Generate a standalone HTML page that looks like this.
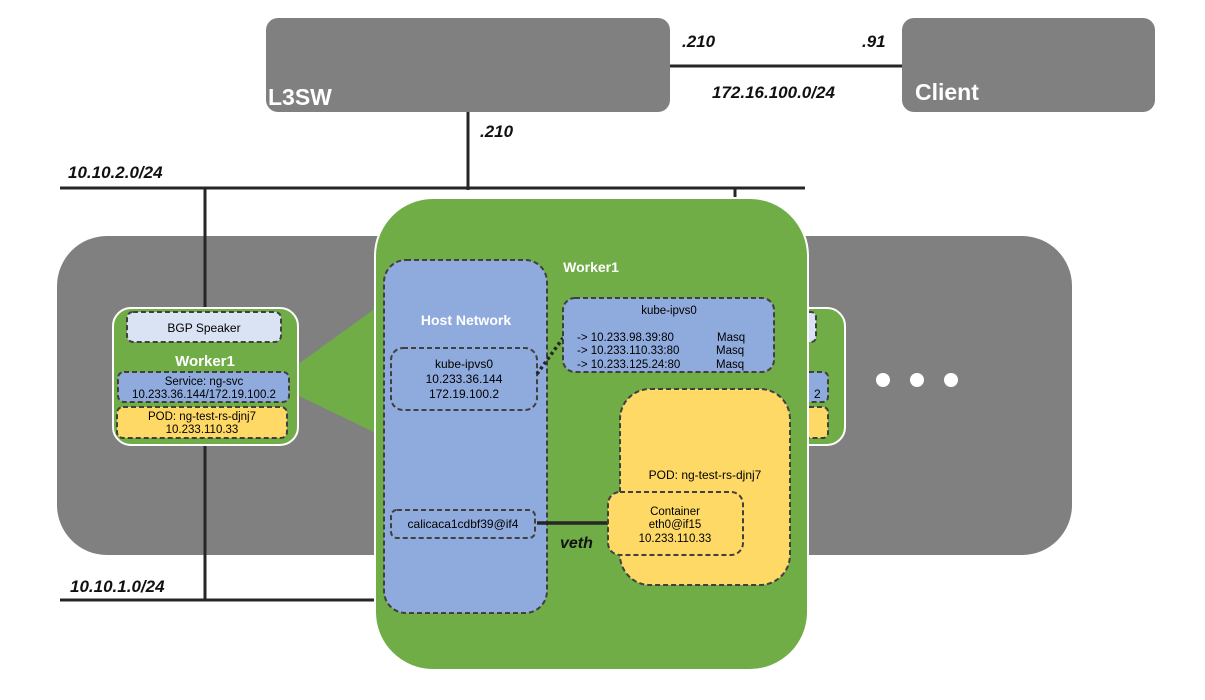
<!DOCTYPE html>
<html><head><meta charset="utf-8"><style>
html,body{margin:0;padding:0;background:#fff;}
svg{display:block;font-family:"Liberation Sans","Noto Sans CJK KR",sans-serif;}
</style></head><body>
<svg width="1205" height="700" viewBox="0 0 1205 700" xmlns="http://www.w3.org/2000/svg">
<!-- top boxes -->
<rect x="266" y="18" width="404" height="94" rx="12" fill="#808080"/>
<text x="268" y="105" font-size="23" font-weight="bold" fill="#fff">L3SW</text>
<rect x="902" y="18" width="253" height="94" rx="12" fill="#808080"/>
<text x="915" y="100" font-size="23" font-weight="bold" fill="#fff">Client</text>
<line x1="670" y1="66" x2="902" y2="66" stroke="#262626" stroke-width="3"/>
<g font-size="17" font-weight="bold" font-style="italic" fill="#111">
<text x="682" y="47">.210</text>
<text x="862" y="47">.91</text>
<text x="712" y="98">172.16.100.0/24</text>
<text x="480" y="137">.210</text>
<text x="68" y="178">10.10.2.0/24</text>
<text x="70" y="592">10.10.1.0/24</text>
<text x="213" y="300">.141</text>
</g>
<line x1="468" y1="112" x2="468" y2="190" stroke="#262626" stroke-width="3"/>
<line x1="60" y1="188" x2="805" y2="188" stroke="#262626" stroke-width="3"/>
<line x1="735" y1="188" x2="735" y2="200" stroke="#262626" stroke-width="3"/>
<!-- big grey -->
<rect x="57" y="236" width="1015" height="319" rx="50" fill="#808080"/>
<line x1="205" y1="188" x2="205" y2="600" stroke="#262626" stroke-width="3"/>
<line x1="60" y1="600" x2="377" y2="600" stroke="#262626" stroke-width="3"/>
<!-- right clipped worker -->
<rect x="760" y="308" width="85" height="137" rx="18" fill="#70AD47" stroke="#fff" stroke-width="2"/>
<rect x="780" y="312" width="36" height="30" rx="5" fill="#DAE3F3" stroke="#404040" stroke-width="2" stroke-dasharray="5,3"/>
<rect x="780" y="372" width="48" height="30" rx="5" fill="#8FAADC" stroke="#404040" stroke-width="2" stroke-dasharray="5,3"/>
<rect x="780" y="407" width="48" height="31" rx="5" fill="#FFD966" stroke="#404040" stroke-width="2" stroke-dasharray="5,3"/>
<text x="814" y="398" font-size="12" fill="#000">2</text>
<circle cx="883" cy="380" r="7" fill="#fff"/>
<circle cx="917" cy="380" r="7" fill="#fff"/>
<circle cx="951" cy="380" r="7" fill="#fff"/>
<!-- small worker -->
<polygon points="297,365 380,305 380,435 297,395" fill="#70AD47"/>
<rect x="113" y="308" width="185" height="137" rx="18" fill="#70AD47" stroke="#fff" stroke-width="2"/>
<rect x="127" y="312" width="154" height="30" rx="6" fill="#DAE3F3" stroke="#404040" stroke-width="2" stroke-dasharray="5,3"/>
<text x="204" y="332" font-size="12" text-anchor="middle">BGP Speaker</text>
<text x="205" y="366" font-size="15" font-weight="bold" fill="#fff" text-anchor="middle">Worker1</text>
<rect x="118" y="372" width="171" height="30" rx="6" fill="#8FAADC" stroke="#404040" stroke-width="2" stroke-dasharray="5,3"/>
<text x="204" y="385" font-size="11.5" text-anchor="middle">Service: ng-svc</text>
<text x="204" y="398" font-size="11.5" text-anchor="middle">10.233.36.144/172.19.100.2</text>
<rect x="117" y="407" width="170" height="31" rx="6" fill="#FFD966" stroke="#404040" stroke-width="2" stroke-dasharray="5,3"/>
<text x="202" y="420" font-size="11.5" text-anchor="middle">POD: ng-test-rs-djnj7</text>
<text x="202" y="433" font-size="11.5" text-anchor="middle">10.233.110.33</text>
<!-- big worker -->
<rect x="375" y="198" width="433" height="472" rx="58" fill="#70AD47" stroke="#fff" stroke-width="2"/>
<text x="591" y="272" font-size="14" font-weight="bold" fill="#fff" text-anchor="middle">Worker1</text>
<rect x="384" y="260" width="163" height="353" rx="22" fill="#8FAADC" stroke="#404040" stroke-width="2" stroke-dasharray="5,3"/>
<text x="466" y="325" font-size="14" font-weight="bold" fill="#fff" text-anchor="middle">Host Network</text>
<rect x="391" y="348" width="146" height="62" rx="12" fill="#8FAADC" stroke="#404040" stroke-width="2" stroke-dasharray="5,3"/>
<text x="464" y="368" font-size="12" text-anchor="middle">kube-ipvs0</text>
<text x="464" y="383" font-size="12" text-anchor="middle">10.233.36.144</text>
<text x="464" y="398" font-size="12" text-anchor="middle">172.19.100.2</text>
<rect x="391" y="510" width="144" height="28" rx="6" fill="#8FAADC" stroke="#404040" stroke-width="2" stroke-dasharray="5,3"/>
<text x="463" y="528" font-size="12" text-anchor="middle">calicaca1cdbf39@if4</text>
<line x1="537" y1="374" x2="563" y2="338" stroke="#262626" stroke-width="3.5" stroke-dasharray="3,3"/>
<rect x="563" y="298" width="211" height="74" rx="12" fill="#8FAADC" stroke="#404040" stroke-width="2" stroke-dasharray="5,3"/>
<text x="669" y="314" font-size="11.5" text-anchor="middle">kube-ipvs0</text>
<g font-size="11.5">
<text x="577" y="341">-&gt; 10.233.98.39:80</text>
<text x="577" y="354">-&gt; 10.233.110.33:80</text>
<text x="577" y="368">-&gt; 10.233.125.24:80</text>
<text x="717" y="341">Masq</text>
<text x="716" y="354">Masq</text>
<text x="716" y="368">Masq</text>
</g>
<rect x="620" y="389" width="170" height="196" rx="30" fill="#FFD966" stroke="#404040" stroke-width="2" stroke-dasharray="5,3"/>
<text x="705" y="479" font-size="12" text-anchor="middle">POD: ng-test-rs-djnj7</text>
<line x1="537" y1="523" x2="610" y2="523" stroke="#262626" stroke-width="3.5"/>
<text x="560" y="548" font-size="16" font-weight="bold" font-style="italic" fill="#111">veth</text>
<rect x="608" y="492" width="135" height="63" rx="12" fill="#FFD966" stroke="#404040" stroke-width="2" stroke-dasharray="5,3"/>
<text x="675" y="515" font-size="11.5" text-anchor="middle">Container</text>
<text x="675" y="528" font-size="11.5" text-anchor="middle">eth0@if15</text>
<text x="675" y="542" font-size="11.5" text-anchor="middle">10.233.110.33</text>
</svg>
</body></html>
